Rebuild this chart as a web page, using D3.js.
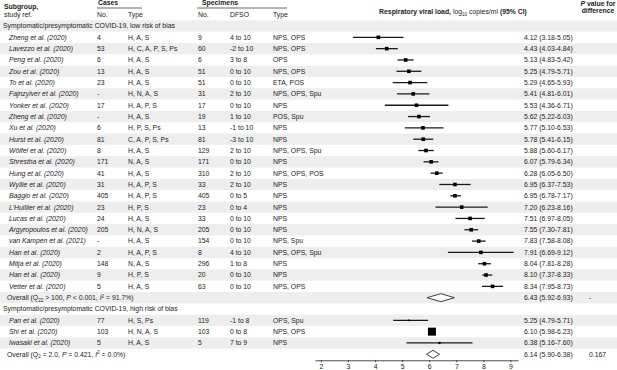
<!DOCTYPE html>
<html>
<head>
<meta charset="utf-8">
<script src="https://cdn.jsdelivr.net/npm/d3@7"></script>
<style>
    body { margin: 0; background: white; }
    svg text { font-family: "Liberation Sans", Arial, sans-serif; font-size: 6.85px; fill: #222; }
    .bold { font-weight: bold; }
    .name { font-style: italic; }
</style>
</head>
<body>
<svg id="forest_chart" width="617" height="370"></svg>
<script>
// study level data, in table order (group 1 then group 2)
var groups = ["Symptomatic/presymptomatic COVID-19, low risk of bias", "Symptomatic/presymptomatic COVID-19, high risk of bias"]
var groupSizes = [23, 3]
var studies = ["Zheng et al. (2020)", "Lavezzo et al. (2020)", "Peng et al. (2020)", "Zou et al. (2020)", "To et al. (2020)",
    "Fajnzylver et al. (2020)", "Yonker et al. (2020)", "Zheng et al. (2020)", "Xu et al. (2020)", "Hurst et al. (2020)",
    "Wölfel et al. (2020)", "Shrestha et al. (2020)", "Hung et al. (2020)", "Wyllie et al. (2020)", "Baggio et al. (2020)",
    "L'Huillier et al. (2020)", "Lucas et al. (2020)", "Argyropoulos et al. (2020)", "van Kampen et al. (2021)", "Han et al. (2020)",
    "Mitja et al. (2020)", "Han et al. (2020)", "Vetter et al. (2020)",
    "Pan et al. (2020)", "Shi et al. (2020)", "Iwasaki et al. (2020)"]
var casesNo = ["4", "53", "6", "13", "23", "-", "17", "-", "6", "81", "8", "171", "41", "31", "405", "23", "24", "205", "-", "2", "148", "9", "5",
    "77", "103", "5"]
var casesType = ["H, A, S", "H, C, A, P, S, Ps", "H, A, S", "H, A, S", "H, A, S", "H, N, A, S", "H, A, P, S", "H, A, S", "H, P, S, Ps",
    "C, A, P, S, Ps", "H, A, S", "N, A, S", "H, A, S", "H, A, P, S", "H, A, P, S", "H, P, S", "H, A, S", "H, N, A, S", "H, A, S",
    "H, A, P, S", "N, A, S", "H, P, S", "H, A, S",
    "H, S, Ps", "H, N, A, S", "H, A, S"]
var specNo = ["9", "60", "6", "51", "51", "31", "17", "19", "13", "81", "129", "171", "310", "33", "405", "23", "33", "205", "154", "8", "296", "20", "63",
    "119", "103", "5"]
var dfso = ["4 to 10", "-2 to 10", "3 to 8", "0 to 10", "0 to 10", "2 to 10", "0 to 10", "1 to 10", "-1 to 10", "-3 to 10", "2 to 10",
    "0 to 10", "2 to 10", "2 to 10", "0 to 5", "0 to 4", "0 to 10", "0 to 10", "0 to 10", "4 to 10", "1 to 8", "0 to 10", "0 to 10",
    "-1 to 8", "0 to 8", "7 to 9"]
var specType = ["NPS, OPS", "NPS, OPS", "OPS", "NPS, OPS", "ETA, POS", "NPS, OPS, Spu", "NPS", "POS, Spu", "NPS", "NPS", "NPS, OPS, Spu",
    "NPS", "NPS, OPS, POS", "NPS", "NPS", "NPS", "NPS", "NPS", "NPS, Spu", "NPS, OPS, Spu", "NPS", "NPS", "NPS, OPS",
    "OPS, Spu", "NPS, OPS", "NPS"]
var estimate = [4.12, 4.43, 5.13, 5.25, 5.29, 5.41, 5.53, 5.62, 5.77, 5.78, 5.88, 6.07, 6.28, 6.95, 6.95, 7.20, 7.51, 7.55, 7.83, 7.91,
    8.04, 8.10, 8.34, 5.25, 6.10, 6.38]
// whiskers as drawn
var ciLow = [3.18, 4.03, 4.83, 4.79, 4.65, 4.81, 4.36, 5.22, 5.10, 5.41, 5.60, 5.79, 6.05, 6.37, 6.78, 6.23, 6.97, 7.30, 7.58, 6.69,
    7.81, 7.96, 7.95, 4.67, 5.98, 5.16]
var ciHigh = [5.05, 4.84, 5.42, 5.71, 5.93, 6.01, 6.71, 6.03, 6.53, 6.15, 6.17, 6.34, 6.50, 7.53, 7.17, 8.16, 8.05, 7.81, 8.08, 9.12,
    8.28, 8.33, 8.73, 5.96, 6.23, 7.60]
var ciText = ["4.12 (3.18-5.05)", "4.43 (4.03-4.84)", "5.13 (4.83-5.42)", "5.25 (4.79-5.71)", "5.29 (4.65-5.93)", "5.41 (4.81-6.01)",
    "5.53 (4.36-6.71)", "5.62 (5.22-6.03)", "5.77 (5.10-6.53)", "5.78 (5.41-6.15)", "5.88 (5.60-6.17)", "6.07 (5.79-6.34)",
    "6.28 (6.05-6.50)", "6.95 (6.37-7.53)", "6.95 (6.78-7.17)", "7.20 (6.23-8.16)", "7.51 (6.97-8.05)", "7.55 (7.30-7.81)",
    "7.83 (7.58-8.08)", "7.91 (6.69-9.12)", "8.04 (7.81-8.28)", "8.10 (7.37-8.33)", "8.34 (7.95-8.73)",
    "5.25 (4.79-5.71)", "6.10 (5.98-6.23)", "6.38 (5.16-7.60)"]
var boxSize = [3.6, 3.6, 3.6, 3.6, 3.6, 3.6, 3.6, 3.6, 3.6, 3.6, 3.6, 3.6, 3.6, 3.6, 3.6, 3.6, 3.6, 3.6, 3.6, 3.6, 3.6, 3.6, 3.6,
    1.6, 8, 2.2]

// pooled results per group
var overallEst = [6.43, 6.14]
var overallLow = [5.92, 5.90]
var overallHigh = [6.93, 6.38]
var overallText = ["6.43 (5.92-6.93)", "6.14 (5.90-6.38)"]
var overallQsub = ["22", "2"]
var overallQ = [" > 100, ", " = 2.0, "]
var overallP = [" < 0.001, ", " = 0.421, "]
var overallI2 = [" = 91.7%)", " = 0.0%)"]
var pValues = ["-", "0.167"]

var axisTicks = [2, 3, 4, 5, 6, 7, 8, 9]

function build_forest_chart() {
    var svg = d3.select("#forest_chart");
    const width = 617;
    const rowTop = 26, rowStep = 11.32;
    const cols = {name: 9, group: 3, casesNo: 97, casesType: 128, specNo: 198, dfso: 230, specType: 273, ci: 524, p: 589};

    // build the row list
    var rows = [];
    var k = 0;
    groups.forEach(function(g, gi) {
        rows.push({kind: "group", gi: gi});
        for (var j = 0; j < groupSizes[gi]; j++) {
            rows.push({kind: "study", i: k});
            k++;
        }
        rows.push({kind: "overall", gi: gi});
    });

    var yRow = d3.scaleLinear().domain([0, 1]).range([rowTop, rowTop + rowStep]);
    var x = d3.scaleLinear().domain([1.78, 9.28]).range([315, 518]);

    // alternating bands
    svg.append("g").selectAll("rect")
        .data(d3.range(0, rows.length, 2))
        .enter().append("rect")
        .attr("x", 0)
        .attr("y", idx => yRow(idx) - rowStep / 2)
        .attr("width", width)
        .attr("height", rowStep)
        .attr("fill", "#eeeeee");

    // headers
    var head = svg.append("g");
    head.append("text").attr("class", "bold").attr("x", 4).attr("y", 9).text("Subgroup,");
    head.append("text").attr("x", 4).attr("y", 17).text("study ref.");
    head.append("text").attr("class", "bold").attr("x", 98).attr("y", 5).text("Cases");
    head.append("text").attr("class", "bold").attr("x", 202).attr("y", 5).text("Specimens");
    head.append("line").attr("x1", 97).attr("x2", 142).attr("y1", 8).attr("y2", 8).attr("stroke", "#444").attr("stroke-width", 0.8);
    head.append("line").attr("x1", 197).attr("x2", 287).attr("y1", 8).attr("y2", 8).attr("stroke", "#444").attr("stroke-width", 0.8);
    [["No.", cols.casesNo], ["Type", cols.casesType], ["No.", cols.specNo], ["DFSO", cols.dfso], ["Type", cols.specType]].forEach(function(h) {
        head.append("text").attr("x", h[1]).attr("y", 17).text(h[0]);
    });
    var title = head.append("text").attr("x", 453).attr("y", 14).attr("text-anchor", "middle");
    title.append("tspan").attr("class", "bold").text("Respiratory viral load, ");
    title.append("tspan").text("log");
    title.append("tspan").attr("font-size", "4.6px").attr("dy", 1.5).text("10");
    title.append("tspan").attr("dy", -1.5).text(" copies/ml ");
    title.append("tspan").attr("class", "bold").text("(95% CI)");
    var pHead = head.append("text").attr("class", "bold").attr("x", 598).attr("y", 6).attr("text-anchor", "middle");
    pHead.append("tspan").attr("font-style", "italic").text("P");
    pHead.append("tspan").text(" value for");
    head.append("text").attr("class", "bold").attr("x", 598).attr("y", 13).attr("text-anchor", "middle").text("difference");

    // row texts
    var gRows = svg.append("g").selectAll("g.row")
        .data(rows).enter()
        .append("g").classed("row", true)
        .attr("transform", (d, idx) => "translate(0," + yRow(idx) + ")");

    gRows.filter(d => d.kind == "group").append("text")
        .attr("x", cols.group).attr("dy", "0.35em")
        .text(d => groups[d.gi]);

    var st = gRows.filter(d => d.kind == "study");
    st.append("text").attr("class", "name").attr("x", cols.name).attr("dy", "0.35em").text(d => studies[d.i]);
    st.append("text").attr("x", cols.casesNo).attr("dy", "0.35em").text(d => casesNo[d.i]);
    st.append("text").attr("x", cols.casesType).attr("dy", "0.35em").text(d => casesType[d.i]);
    st.append("text").attr("x", cols.specNo).attr("dy", "0.35em").text(d => specNo[d.i]);
    st.append("text").attr("x", cols.dfso).attr("dy", "0.35em").text(d => dfso[d.i]);
    st.append("text").attr("x", cols.specType).attr("dy", "0.35em").text(d => specType[d.i]);
    st.append("text").attr("x", cols.ci).attr("dy", "0.35em").text(d => ciText[d.i]);
    st.append("line")
        .attr("x1", d => x(ciLow[d.i])).attr("x2", d => x(ciHigh[d.i]))
        .attr("stroke", "#1a1a1a").attr("stroke-width", 1.3);
    st.append("rect")
        .attr("x", d => x(estimate[d.i]) - boxSize[d.i] / 2)
        .attr("y", d => -boxSize[d.i] / 2)
        .attr("width", d => boxSize[d.i]).attr("height", d => boxSize[d.i])
        .attr("fill", "#000");

    var ov = gRows.filter(d => d.kind == "overall");
    var ovText = ov.append("text").attr("x", 7).attr("dy", "0.35em");
    ovText.append("tspan").text("Overall (Q");
    ovText.append("tspan").attr("font-size", "4.6px").attr("dy", 1.5).text(d => overallQsub[d.gi]);
    ovText.append("tspan").attr("dy", -1.5).text(d => overallQ[d.gi]);
    ovText.append("tspan").attr("font-style", "italic").text("P");
    ovText.append("tspan").text(d => overallP[d.gi]);
    ovText.append("tspan").attr("font-style", "italic").text("I");
    ovText.append("tspan").attr("font-size", "4.6px").attr("dy", -2.5).text("2");
    ovText.append("tspan").attr("dy", 2.5).text(d => overallI2[d.gi]);
    ov.append("text").attr("x", cols.ci).attr("dy", "0.35em").text(d => overallText[d.gi]);
    ov.append("text").attr("x", cols.p).attr("dy", "0.35em").text(d => pValues[d.gi]);
    ov.append("path")
        .attr("fill", "white").attr("stroke", "#111").attr("stroke-width", 0.8)
        .attr("d", d => d3.line()([[x(overallLow[d.gi]), 0], [x(overallEst[d.gi]), -4], [x(overallHigh[d.gi]), 0],
            [x(overallEst[d.gi]), 4], [x(overallLow[d.gi]), 0]]));

    // x axis
    var axisY = yRow(rows.length - 1) + 6;
    var axis = svg.append("g")
        .attr("transform", "translate(0," + axisY + ")")
        .call(d3.axisBottom(x).tickValues(axisTicks).tickSize(2).tickSizeOuter(0).tickFormat(d3.format("d")));
    axis.select(".domain").attr("stroke", "#222").attr("stroke-width", 0.8);
    axis.selectAll(".tick line").attr("stroke", "#222").attr("stroke-width", 0.8);
    axis.selectAll(".tick text").attr("font-size", "6.85px").attr("dy", "0.6em")
        .attr("font-family", "\"Liberation Sans\", Arial, sans-serif").attr("fill", "#222");
}

build_forest_chart();
</script>
</body>
</html>
